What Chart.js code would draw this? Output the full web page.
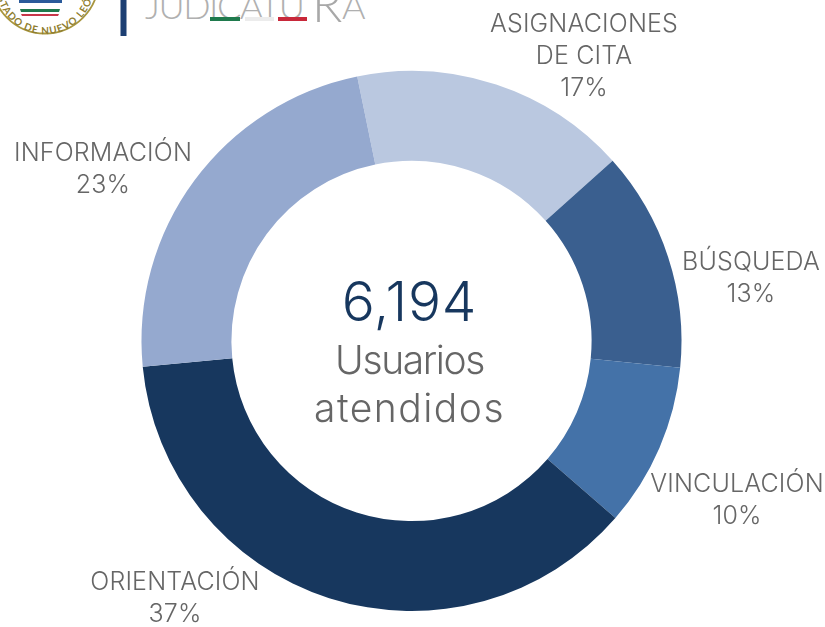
<!DOCTYPE html>
<html><head><meta charset="utf-8">
<script src="https://cdn.jsdelivr.net/npm/chart.js@4"></script>
<style>
html,body{margin:0;padding:0;background:#fff;overflow:hidden}
#wrap{position:relative;width:825px;height:627px}
canvas{position:absolute;left:0;top:0}
svg{position:absolute;left:0;top:0}
</style></head><body>
<div id="wrap">
<svg width="825" height="627" viewBox="0 0 825 627">
  <defs><path id="arc" d="M -2 -1 A 49 49 0 0 0 92 -1"/></defs>
  <circle cx="45" cy="-20" r="53.500" fill="#fff" stroke="#a8963f" stroke-width="1.800"/>
  <rect x="19" y="0" width="43" height="3" fill="#2a5a9a"/>
  <path d="M20 9 L60 9 L59 12 L21 12 Z" fill="#1f7a4d"/>
  <path d="M21 14 L59 14 L58 16 L22 16 Z" fill="#c8374a"/>
  <text font-family="Lato" font-size="10" font-weight="700" fill="#8f7d2e" letter-spacing="1" text-anchor="middle"><textPath href="#arc" startOffset="50%">ESTADO DE NUEVO LEÓN</textPath></text>
  <rect x="120.500" y="0" width="6" height="36" fill="#1d3f73"/>
  <text x="145" y="19" font-family="Lato" font-weight="300" font-size="36" fill="#b0b0b0" textLength="160">JUDICATU</text>
  <text x="312" y="22" font-family="Lato" font-weight="300" font-size="50" fill="#a8a8a8">R</text>
  <text x="342" y="19" font-family="Lato" font-weight="300" font-size="36" fill="#b0b0b0">A</text>
  <rect x="210" y="17" width="30" height="4" fill="#1f7a4d"/>
  <rect x="245" y="17" width="29" height="4" fill="#ececec"/>
  <rect x="278" y="17" width="29" height="4" fill="#c8283a"/>
</svg>
<canvas id="c" width="825" height="627"></canvas>
</div>
<script>
const categories=["ASIGNACIONES\nDE CITA","BÚSQUEDA","VINCULACIÓN","ORIENTACIÓN","INFORMACIÓN"];
const users=[1028,818,607,2298,1443];
const shareLabels=["17%","13%","10%","37%","23%"];
const colors=["#bac8e0","#3a5f8f","#4472a8","#17375e","#95a9cf"];
const labelPos=[[584,56.500],[751,278.500],[737,500.500],[175,598.500],[103,169.500]];
const centerTotal="6,194";
const centerLines=["Usuarios","atendidos"];
const textPlugin={id:"txt",afterDraw(ch){
  const x=ch.ctx;x.save();x.textAlign="center";x.textBaseline="middle";
  x.fillStyle="#666666";x.font='300 25px Inter';x.letterSpacing="0.150px";
  categories.forEach((c,i)=>{
    const ls=(c+"\n"+shareLabels[i]).split("\n");
    const h=32;
    ls.forEach((l,k)=>x.fillText(l,labelPos[i][0],labelPos[i][1]+(k-(ls.length-1)/2)*h));
  });
  const m=ch.getDatasetMeta(0).data[0];
  x.fillStyle="#17375e";x.font='300 55px Inter';x.letterSpacing="0.800px";
  x.fillText(centerTotal,m.x-2,m.y-37);
  x.fillStyle="#666666";x.font='300 39px Inter';
  x.letterSpacing="-1.400px";
  x.fillText(centerLines[0],m.x-2,m.y+21);
  x.letterSpacing="1.500px";
  x.fillText(centerLines[1],m.x-2,m.y+69);
  x.restore();
}};
new Chart(document.getElementById("c"),{
  type:"doughnut",
  data:{labels:categories.map(c=>c.replace("\n"," ")),datasets:[{data:users,backgroundColor:colors,borderWidth:0}]},
  options:{responsive:false,animation:false,cutout:"66.700%",rotation:-11.600,
    layout:{padding:{left:141,right:143,top:71,bottom:16}},
    plugins:{legend:{display:false},tooltip:{enabled:false}}},
  plugins:[textPlugin]
});
</script>
</body></html>
